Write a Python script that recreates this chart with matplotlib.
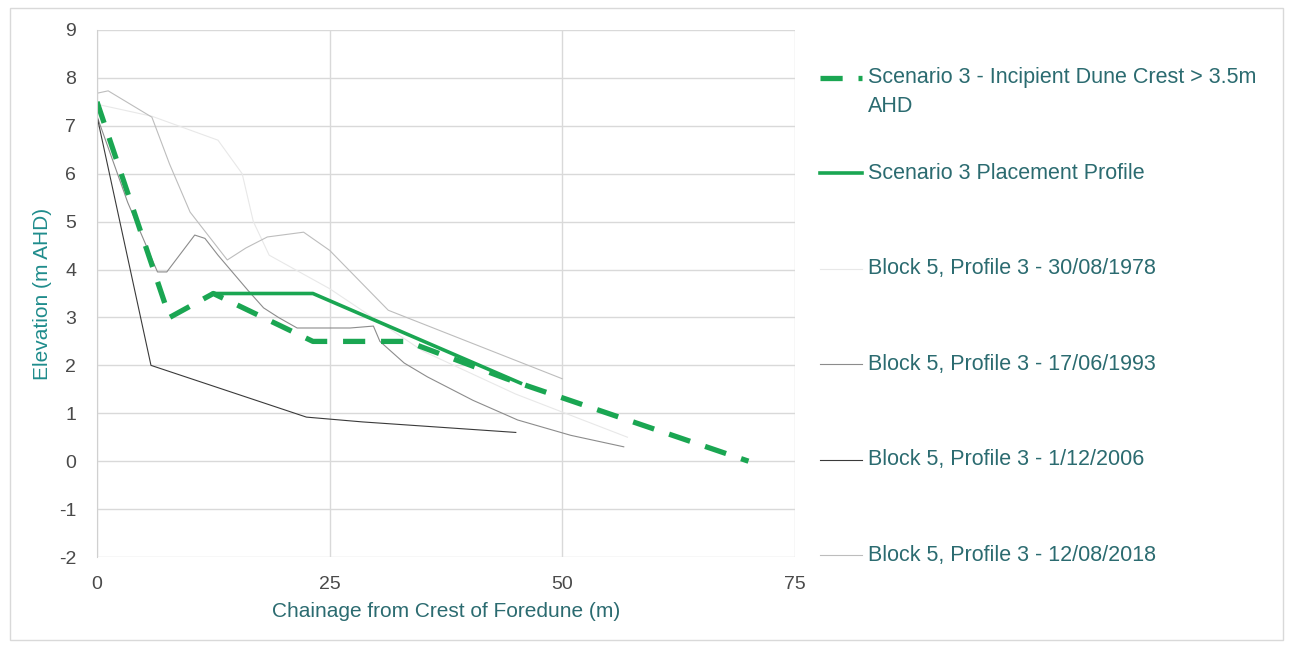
import matplotlib
matplotlib.use('Agg')
import matplotlib.pyplot as plt
from matplotlib.lines import Line2D
from matplotlib.patches import Rectangle

plt.rcParams['font.family'] = ['Liberation Sans', 'DejaVu Sans']
plt.rcParams['axes.unicode_minus'] = False

# Scenario 3 design profiles (chainage m, elevation m AHD)
scen_crest_x = [0, 7.8, 12.5, 23.2, 33.3, 44.0, 70.0]
scen_crest_y = [7.5, 3.0, 3.5, 2.5, 2.5, 1.72, 0.0]

scen_place_x = [12.5, 23.2, 45.5]
scen_place_y = [3.5, 3.5, 1.63]

# Surveyed profiles, Block 5 Profile 3
p1978_x = [0, 5.9, 13.0, 15.6, 16.8, 18.5, 25.0, 35.0, 45.0, 57.0]
p1978_y = [7.45, 7.2, 6.7, 6.0, 5.0, 4.3, 3.6, 2.3, 1.4, 0.5]

p1993_x = [0, 3.3, 6.5, 7.5, 10.5, 11.6, 13.0, 16.2, 17.9, 19.5, 21.5, 27.2,
           29.7, 30.4, 33.0, 35.5, 40.4, 45.2, 50.9, 56.6]
p1993_y = [7.2, 5.4, 3.95, 3.95, 4.72, 4.65, 4.3, 3.57, 3.2, 3.0, 2.78, 2.78,
           2.82, 2.5, 2.05, 1.76, 1.27, 0.86, 0.54, 0.3]

p2006_x = [0, 5.8, 22.5, 28.5, 45.0]
p2006_y = [7.2, 2.0, 0.92, 0.82, 0.6]

p2018_x = [0, 1.2, 5.9, 7.8, 10.0, 14.0, 16.0, 18.3, 22.2, 25.0, 31.3, 50.0]
p2018_y = [7.68, 7.73, 7.18, 6.2, 5.2, 4.2, 4.45, 4.68, 4.78, 4.4, 3.15, 1.72]

labels = [
    ['Scenario 3 - Incipient Dune Crest > 3.5m', 'AHD'],
    ['Scenario 3 Placement Profile'],
    ['Block 5, Profile 3 - 30/08/1978'],
    ['Block 5, Profile 3 - 17/06/1993'],
    ['Block 5, Profile 3 - 1/12/2006'],
    ['Block 5, Profile 3 - 12/08/2018'],
]

green = '#1aa652'
text_teal = '#2b6b70'

W, H = 1290, 645
fig = plt.figure(figsize=(W / 100, H / 100), dpi=100)
ax = fig.add_axes([97 / W, 1 - 557 / H, 698 / W, 527 / H])

# outer chart border
fig.add_artist(Rectangle((10 / W, 5 / H), 1273 / W, 632 / H, transform=fig.transFigure,
                         fill=False, edgecolor='#d9d9d9', linewidth=1))

styles = [
    dict(color=green, linewidth=3.8, linestyle=(0, (4.2, 3)), dash_capstyle='butt'),
    dict(color=green, linewidth=2.6, linestyle='-'),
    dict(color='#e8e8e8', linewidth=0.8),
    dict(color='#8c8c8c', linewidth=0.8),
    dict(color='#3a3a3a', linewidth=0.8),
    dict(color='#bdbdbd', linewidth=0.8),
]

series = [
    (p1978_x, p1978_y, styles[2]),
    (p2018_x, p2018_y, styles[5]),
    (p1993_x, p1993_y, styles[3]),
    (p2006_x, p2006_y, styles[4]),
    (scen_place_x, scen_place_y, styles[1]),
    (scen_crest_x, scen_crest_y, styles[0]),
]
for xs, ys, st in series:
    ax.plot(xs, ys, **st)

ax.set_xlim(0, 75)
ax.set_ylim(-2, 9)
ax.set_xticks([0, 25, 50, 75])
ax.set_yticks(range(-2, 10))
ax.grid(True, color='#d9d9d9', linewidth=1)
ax.set_axisbelow(True)
for side in ['top', 'right', 'bottom']:
    ax.spines[side].set_visible(False)
ax.spines['left'].set_color('#d0d0d0')
ax.tick_params(length=0, labelsize=14, labelcolor='#4a4a4a')
ax.tick_params(axis='y', pad=15)
ax.tick_params(axis='x', pad=14)

ax.set_xlabel('Chainage from Crest of Foredune (m)', fontsize=15, color=text_teal, labelpad=6)
ax.set_ylabel('Elevation (m AHD)', fontsize=15, color='#1f8c8c', labelpad=5)

# legend drawn at the right of the plot
y0, step = 78, 95.4
for i, (lines, st) in enumerate(zip(labels, styles)):
    yc = y0 + step * i
    fy = 1 - yc / H
    fig.add_artist(Line2D([820 / W, 862 / W], [fy, fy], transform=fig.transFigure, **st))
    for j, line in enumerate(lines):
        fig.text(868 / W, 1 - (yc + 28 * j) / H, line, fontsize=15.5,
                 color=text_teal, va='center', ha='left')

fig.savefig('out.png', dpi=100)
